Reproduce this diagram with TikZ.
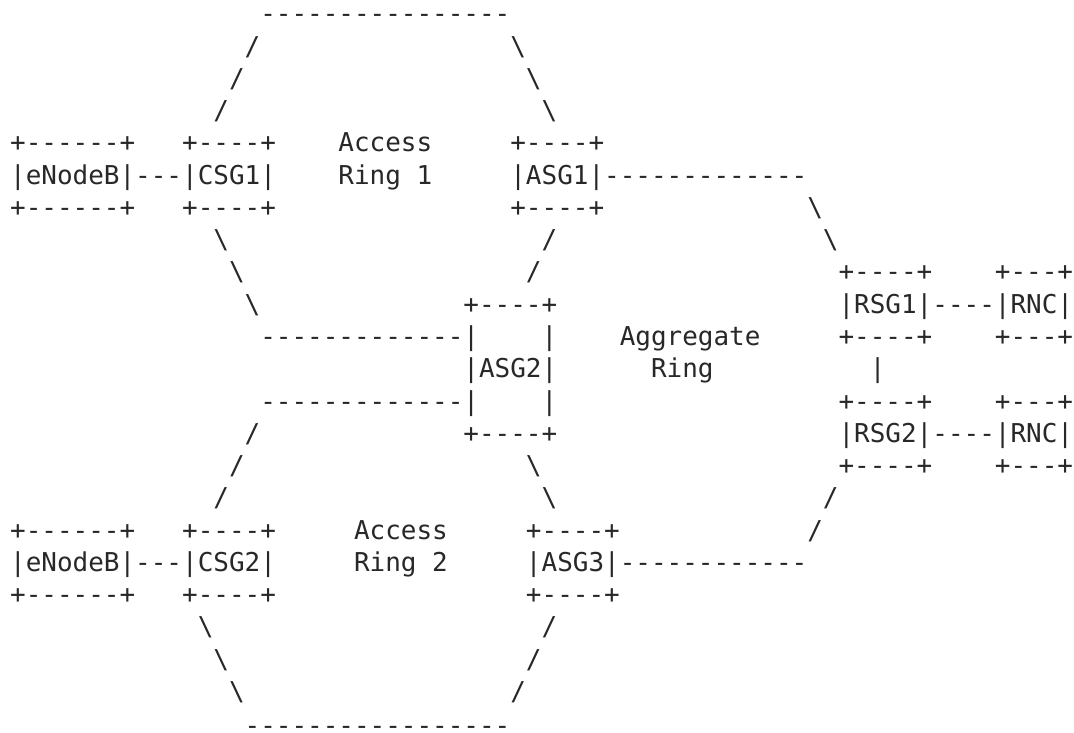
\documentclass[tikz,border=0pt]{standalone}
\usepackage{fontspec}
\setmonofont{DejaVu Sans Mono}
\definecolor{ink}{RGB}{40,40,40}
\tikzset{asc/.style={inner sep=0pt,outer sep=0pt,anchor=base west,text=ink,
  font=\ttfamily\fontsize{19.47}{24}\selectfont}}
\newcommand\T[4]{\node[asc] (#1) at ({10.2+15.63*#3},{22.8+32.27*(#2-1)}) {#4};}
\newcommand\bs{\textbackslash}
\begin{document}
\begin{tikzpicture}[x=0.75pt,y=-0.75pt]
\fill[white] (0,0) rectangle (1074,732);
\useasboundingbox (0,0) rectangle (1074,732);
% row 1-4
\T{top}{1}{16}{----------------}
\T{a2}{2}{15}{/} \T{b2}{2}{32}{\bs}
\T{a3}{3}{14}{/} \T{b3}{3}{33}{\bs}
\T{a4}{4}{13}{/} \T{b4}{4}{34}{\bs}
% rows 5-7
\T{enbAt}{5}{0}{+------+} \T{csgAt}{5}{11}{+----+} \T{accA}{5}{21}{Access} \T{asgAt}{5}{32}{+----+}
\T{enbA}{6}{0}{|eNodeB|} \T{lA}{6}{8}{---} \T{csgA}{6}{11}{|CSG1|} \T{ringA}{6}{21}{Ring 1}
\T{asgA}{6}{32}{|ASG1|} \T{lAsgA}{6}{38}{-------------}
\T{enbAb}{7}{0}{+------+} \T{csgAb}{7}{11}{+----+} \T{asgAb}{7}{32}{+----+} \T{c7}{7}{51}{\bs}
% rows 8-10
\T{a8}{8}{13}{\bs} \T{b8}{8}{34}{/} \T{c8}{8}{52}{\bs}
\T{a9}{9}{14}{\bs} \T{b9}{9}{33}{/} \T{rsgAt}{9}{53}{+----+} \T{rncAt}{9}{63}{+---+}
\T{a10}{10}{15}{\bs} \T{asgBt}{10}{29}{+----+} \T{rsgA}{10}{53}{|RSG1|} \T{lRA}{10}{59}{----} \T{rncA}{10}{63}{|RNC|}
% rows 11-13
\T{lB1}{11}{16}{-------------} \T{vB1}{11}{29}{|} \T{vB2}{11}{34}{|} \T{agg}{11}{39}{Aggregate}
\T{rsgAb}{11}{53}{+----+} \T{rncAb}{11}{63}{+---+}
\T{asgB}{12}{29}{|ASG2|} \T{ringB}{12}{41}{Ring} \T{vR}{12}{55}{|}
\T{lB2}{13}{16}{-------------} \T{vB3}{13}{29}{|} \T{vB4}{13}{34}{|}
\T{rsgBt}{13}{53}{+----+} \T{rncBt}{13}{63}{+---+}
% rows 14-16
\T{a14}{14}{15}{/} \T{asgBb}{14}{29}{+----+} \T{rsgB}{14}{53}{|RSG2|} \T{lRB}{14}{59}{----} \T{rncB}{14}{63}{|RNC|}
\T{a15}{15}{14}{/} \T{b15}{15}{33}{\bs} \T{rsgBb}{15}{53}{+----+} \T{rncBb}{15}{63}{+---+}
\T{a16}{16}{13}{/} \T{b16}{16}{34}{\bs} \T{c16}{16}{52}{/}
% rows 17-19
\T{enbBt}{17}{0}{+------+} \T{csgBt}{17}{11}{+----+} \T{accB}{17}{22}{Access} \T{asgCt}{17}{33}{+----+} \T{c17}{17}{51}{/}
\T{enbB}{18}{0}{|eNodeB|} \T{lC}{18}{8}{---} \T{csgB}{18}{11}{|CSG2|} \T{ringC}{18}{22}{Ring 2}
\T{asgC}{18}{33}{|ASG3|} \T{lAsgC}{18}{39}{------------}
\T{enbBb}{19}{0}{+------+} \T{csgBb}{19}{11}{+----+} \T{asgCb}{19}{33}{+----+}
% rows 20-23
\T{a20}{20}{12}{\bs} \T{b20}{20}{34}{/}
\T{a21}{21}{13}{\bs} \T{b21}{21}{33}{/}
\T{a22}{22}{14}{\bs} \T{b22}{22}{32}{/}
\node[asc] (bot) at ({10.2+15.63*15},{22.8+32.27*22-4}) {\raisebox{-4.5pt}[\height][0pt]{-----------------}};
\end{tikzpicture}
\end{document}
